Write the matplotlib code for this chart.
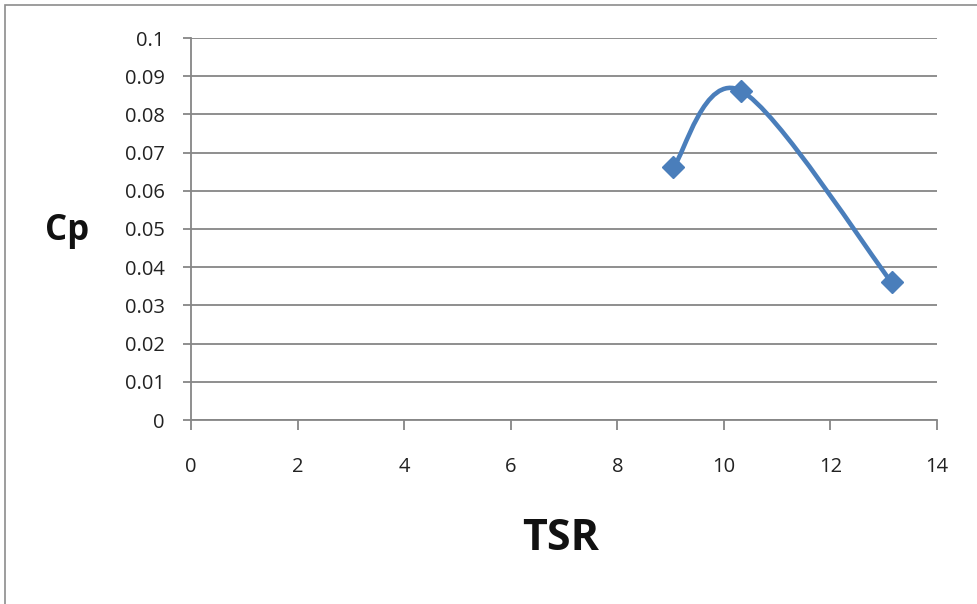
import matplotlib
matplotlib.use("Agg")
import matplotlib.pyplot as plt
from matplotlib.path import Path
from matplotlib.patches import PathPatch, Rectangle
import numpy as np

# Data
tsr = [9.05, 10.32, 13.15]
cp = [0.0661, 0.0862, 0.0360]
x_ticks = [0, 2, 4, 6, 8, 10, 12, 14]
y_ticks = [0, 0.01, 0.02, 0.03, 0.04, 0.05, 0.06, 0.07, 0.08, 0.09, 0.1]
y_labels = ["0", "0.01", "0.02", "0.03", "0.04", "0.05", "0.06", "0.07", "0.08", "0.09", "0.1"]

W, H = 978, 604
fig = plt.figure(figsize=(W / 100, H / 100), dpi=100)
fig.patch.set_facecolor("white")

# outer chart border (right/bottom edges cropped in reference)
fig.patches.append(Rectangle((5 / W, -0.05), 1.2, 1 - 5 / H + 0.05, transform=fig.transFigure,
                             fill=False, edgecolor="#8c8c8c", linewidth=1.2))

ax = fig.add_axes([191 / W, 1 - 420 / H, (937 - 191) / W, (420 - 38) / H])
ax.set_xlim(0, 14)
ax.set_ylim(0, 0.1)

grid_c = "#868686"
for s in ["top", "right"]:
    ax.spines[s].set_visible(False)
for s in ["left", "bottom"]:
    ax.spines[s].set_color(grid_c)
    ax.spines[s].set_linewidth(1.3)

ax.set_yticks(y_ticks)
ax.set_yticklabels(y_labels)
ax.set_xticks(x_ticks)
ax.yaxis.grid(True, color=grid_c, linewidth=1.3)
ax.set_axisbelow(True)

font = "Open Sans"
ax.tick_params(axis="both", direction="out", width=1.3, color=grid_c,
               labelsize=14.5, labelcolor="#222222")
ax.tick_params(axis="y", length=6, pad=13)
ax.tick_params(axis="x", length=7.5, pad=19)
for lab in ax.get_xticklabels() + ax.get_yticklabels():
    lab.set_fontfamily(font)

# Excel-like smoothed line (Bezier, Catmull-Rom with 1/6 tension)
P = np.column_stack([tsr, cp])
n = len(P)
verts = [tuple(P[0])]
codes = [Path.MOVETO]
for i in range(n - 1):
    p_prev = P[i - 1] if i > 0 else P[i]
    p_next = P[i + 2] if i + 2 < n else P[i + 1]
    c1 = P[i] + (P[i + 1] - p_prev) / 6.0
    c2 = P[i + 1] - (p_next - P[i]) / 6.0
    verts += [tuple(c1), tuple(c2), tuple(P[i + 1])]
    codes += [Path.CURVE4] * 3
line_c = "#4A7EBB"
ax.add_patch(PathPatch(Path(verts, codes), facecolor="none", edgecolor=line_c,
                       linewidth=3.3, capstyle="round", joinstyle="round", zorder=3))
ax.plot(tsr, cp, linestyle="none", marker="D", markersize=11, color=line_c,
        markeredgecolor=line_c, zorder=4)

fig.text(67 / W, 1 - 231 / H, "Cp", ha="center", va="center", fontsize=25,
         fontweight="bold", fontfamily=font, color="#111111")
fig.text(561 / W, 1 - 539 / H, "TSR", ha="center", va="center", fontsize=31,
         fontweight="bold", fontfamily=font, color="#111111")

fig.savefig("out.png", dpi=100, facecolor="white")
